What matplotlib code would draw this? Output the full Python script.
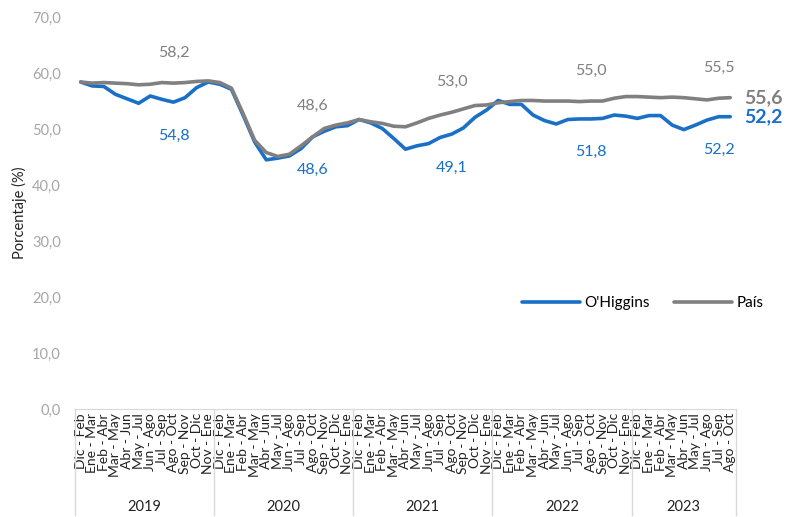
import matplotlib.pyplot as plt
import numpy as np

plt.rcParams['font.family'] = ['Lato', 'DejaVu Sans']

years = ['2019', '2020', '2021', '2022', '2023']
periods = ['Dic - Feb', 'Ene - Mar', 'Feb - Abr', 'Mar - May', 'Abr - Jun', 'May - Jul',
           'Jun - Ago', 'Jul - Sep', 'Ago - Oct', 'Sep - Nov', 'Oct - Dic', 'Nov - Ene']
periods_per_year = [12, 12, 12, 12, 9]

ohiggins = [58.4, 57.7, 57.6, 56.2, 55.4, 54.6, 55.9, 55.3, 54.8, 55.6, 57.4, 58.4,
            58.0, 57.1, 52.5, 47.7, 44.5, 44.8, 45.2, 46.5, 48.6, 49.6, 50.4, 50.6,
            51.7, 51.1, 50.1, 48.3, 46.4, 47.0, 47.4, 48.5, 49.1, 50.2, 52.1, 53.4,
            55.1, 54.4, 54.4, 52.5, 51.5, 50.9, 51.7, 51.8, 51.8, 51.9, 52.5, 52.3,
            51.9, 52.4, 52.4, 50.7, 49.9, 50.7, 51.6, 52.2, 52.2]
pais = [58.4, 58.2, 58.3, 58.2, 58.1, 57.9, 58.0, 58.3, 58.2, 58.3, 58.5, 58.6,
        58.3, 57.3, 52.8, 48.0, 45.8, 45.1, 45.5, 47.0, 48.6, 50.1, 50.7, 51.1,
        51.7, 51.3, 51.0, 50.5, 50.4, 51.1, 51.9, 52.5, 53.0, 53.6, 54.2, 54.3,
        54.7, 54.9, 55.1, 55.1, 55.0, 55.0, 55.0, 54.9, 55.0, 55.0, 55.5, 55.8,
        55.8, 55.7, 55.6, 55.7, 55.6, 55.4, 55.2, 55.5, 55.6]
label_idx = [8, 20, 32, 44, 55]

blue = '#1a6fc7'
gray = '#808080'

labels = []
for n in periods_per_year:
    labels += periods[:n]
x = np.arange(len(labels))

fig = plt.figure(figsize=(7.88, 5.17), dpi=100)
ax = fig.add_axes([0.095, 0.209, 0.839, 0.758])

ax.plot(x, ohiggins, color=blue, lw=2.6, label="O'Higgins", solid_capstyle='round')
ax.plot(x, pais, color=gray, lw=2.6, label='País', solid_capstyle='round')

for i in label_idx:
    ax.annotate(f'{pais[i]:.1f}'.replace('.', ','), (x[i], pais[i]), xytext=(0, 22),
                textcoords='offset points', ha='center', va='center', color=gray, fontsize=11.5)
    ax.annotate(f'{ohiggins[i]:.1f}'.replace('.', ','), (x[i], ohiggins[i]), xytext=(0, -24),
                textcoords='offset points', ha='center', va='center', color=blue, fontsize=11.5)

ax.annotate(f'{pais[-1]:.1f}'.replace('.', ','), (x[-1], pais[-1]), xytext=(10, 0),
            textcoords='offset points', ha='left', va='center', color=gray, fontsize=14, fontweight='bold')
ax.annotate(f'{ohiggins[-1]:.1f}'.replace('.', ','), (x[-1], ohiggins[-1]), xytext=(10, 0),
            textcoords='offset points', ha='left', va='center', color=blue, fontsize=14, fontweight='bold')

ax.set_xlim(-0.5, len(labels) - 0.5)
ax.set_ylim(0, 70)
ax.set_yticks(np.arange(0, 71, 10))
ax.set_yticklabels([f'{v:.1f}'.replace('.', ',') for v in range(0, 71, 10)], color='#a6a6a6', fontsize=10.5)
ax.set_ylabel('Porcentaje (%)', fontsize=10.5, color='#222222')

ax.set_xticks(x)
ax.set_xticklabels(labels, rotation=90, fontsize=10, color='#222222')
ax.tick_params(axis='both', length=0)
ax.tick_params(axis='y', pad=10)
ax.tick_params(axis='x', pad=3)

for s in ['top', 'right', 'left']:
    ax.spines[s].set_visible(False)
ax.spines['bottom'].set_color('#d9d9d9')

# year group separators below the axis
bounds = np.concatenate([[0], np.cumsum(periods_per_year)]) - 0.5
for b in bounds:
    ax.plot([b, b], [0, -0.27], transform=ax.get_xaxis_transform(), color='#d9d9d9', lw=1, clip_on=False)
for k, yr in enumerate(years):
    mid = (bounds[k] + bounds[k + 1]) / 2
    ax.text(mid, -0.25, yr, transform=ax.get_xaxis_transform(), ha='center', va='center', fontsize=10.5, color='#222222')

ax.legend(loc='center left', bbox_to_anchor=(0.655, 0.27), ncol=2, frameon=False, fontsize=11,
          handlelength=3.8, columnspacing=1.6, handletextpad=0.3)

fig.savefig('out.png', dpi=100)
